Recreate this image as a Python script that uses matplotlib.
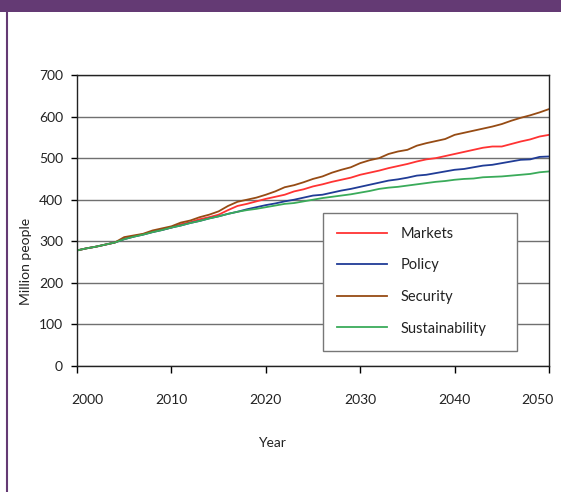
import matplotlib
matplotlib.use("Agg")
import matplotlib.pyplot as plt
from matplotlib.patches import Rectangle
from matplotlib.lines import Line2D
from matplotlib.transforms import ScaledTranslation

plt.rcParams['font.family'] = ['Lato', 'DejaVu Sans']

# data
years = list(range(2000, 2051))
series_names = ['Markets', 'Policy', 'Security', 'Sustainability']
markets = [278, 283, 287, 292, 297, 306, 312, 317, 323, 328,
           333, 341, 346, 353, 358, 364, 375, 385, 390, 396,
           402, 407, 412, 420, 425, 432, 437, 443, 448, 453,
           460, 465, 470, 476, 481, 486, 492, 497, 500, 505,
           510, 515, 520, 525, 528, 528, 534, 540, 545, 552, 556]
policy = [278, 283, 287, 292, 297, 305, 311, 316, 322, 327,
          333, 338, 344, 349, 355, 360, 366, 371, 377, 382,
          387, 391, 396, 400, 405, 410, 412, 417, 422, 426,
          431, 436, 441, 446, 449, 453, 458, 460, 464, 468,
          472, 474, 478, 482, 484, 488, 492, 496, 497, 503, 504]
security = [278, 283, 287, 292, 297, 310, 314, 318, 326, 331,
            336, 345, 350, 358, 364, 372, 385, 395, 400, 405,
            412, 420, 430, 435, 442, 450, 456, 465, 472, 478,
            488, 495, 500, 510, 516, 520, 530, 536, 541, 546,
            556, 561, 566, 571, 576, 582, 590, 597, 603, 610, 618]
sustainability = [278, 283, 287, 292, 297, 305, 311, 316, 322, 327,
                  333, 338, 344, 349, 355, 360, 366, 371, 375, 378,
                  382, 386, 390, 392, 396, 400, 404, 407, 410, 413,
                  417, 421, 426, 429, 431, 434, 437, 440, 443, 445,
                  448, 450, 451, 454, 455, 456, 458, 460, 462, 466, 468]
x_ticks = [2000, 2010, 2020, 2030, 2040, 2050]
y_ticks = [0, 100, 200, 300, 400, 500, 600, 700]

colors = ['#ff3333', '#203c96', '#964b14', '#3aab5a']
text_color = '#222222'

W, H = 561, 492
fig = plt.figure(figsize=(W / 100, H / 100), dpi=100)

# purple header bar and left border
fig.patches.append(Rectangle((0, 1 - 12 / H), 1, 12 / H, transform=fig.transFigure,
                             facecolor='#643a74', edgecolor='none', zorder=0))
fig.lines.append(Line2D([7 / W, 7 / W], [0, 1 - 12 / H], transform=fig.transFigure,
                        color='#643a74', lw=1.5))

ax = fig.add_axes([77 / W, 1 - 366 / H, (549 - 77) / W, (366 - 75) / H])

for vals, c in zip([markets, policy, security, sustainability], colors):
    ax.plot(years, vals, color=c, lw=1.3)

ax.set_xlim(2000, 2050)
ax.set_ylim(0, 700)
ax.set_xticks(x_ticks)
ax.set_yticks(y_ticks)
ax.yaxis.grid(True, color='#707070', lw=1)
ax.set_axisbelow(True)
for s in ax.spines.values():
    s.set_color('#222222')
    s.set_linewidth(1)

ax.tick_params(axis='x', direction='out', length=5, width=1, pad=15,
               labelsize=10, labelcolor=text_color)
ax.tick_params(axis='y', direction='out', length=4, width=1, pad=6,
               labelsize=10, labelcolor=text_color)

# end labels sit inside the frame in the reference
xl = ax.get_xticklabels()
xl[0].set_transform(xl[0].get_transform() + ScaledTranslation(10 / 100, 0, fig.dpi_scale_trans))
xl[-1].set_transform(xl[-1].get_transform() + ScaledTranslation(-12 / 100, 0, fig.dpi_scale_trans))

fig.text(26 / W, 1 - 261 / H, 'Million people', rotation=90, ha='center', va='center',
         fontsize=10, color=text_color)
fig.text(272 / W, 1 - 443 / H, 'Year', ha='center', va='center',
         fontsize=10, color=text_color)

# legend box drawn separately so its size matches the reference
box = Rectangle((323 / W, 1 - 351 / H), (517 - 323) / W, (351 - 213) / H,
                transform=fig.transFigure, facecolor='white', edgecolor='#777777',
                lw=1, zorder=5)
fig.patches.append(box)
leg = ax.legend(series_names, loc='upper left',
                bbox_to_anchor=(337 / W, 1 - 227 / H), bbox_transform=fig.transFigure,
                borderaxespad=0, frameon=False, fontsize=10.5,
                handlelength=3.4, handletextpad=0.95, labelspacing=1.2,
                borderpad=0, labelcolor=text_color)
leg.set_zorder(6)
leg.remove()
fig.legends.append(leg)
leg.set_figure(fig)

fig.savefig('out.png', dpi=100)
